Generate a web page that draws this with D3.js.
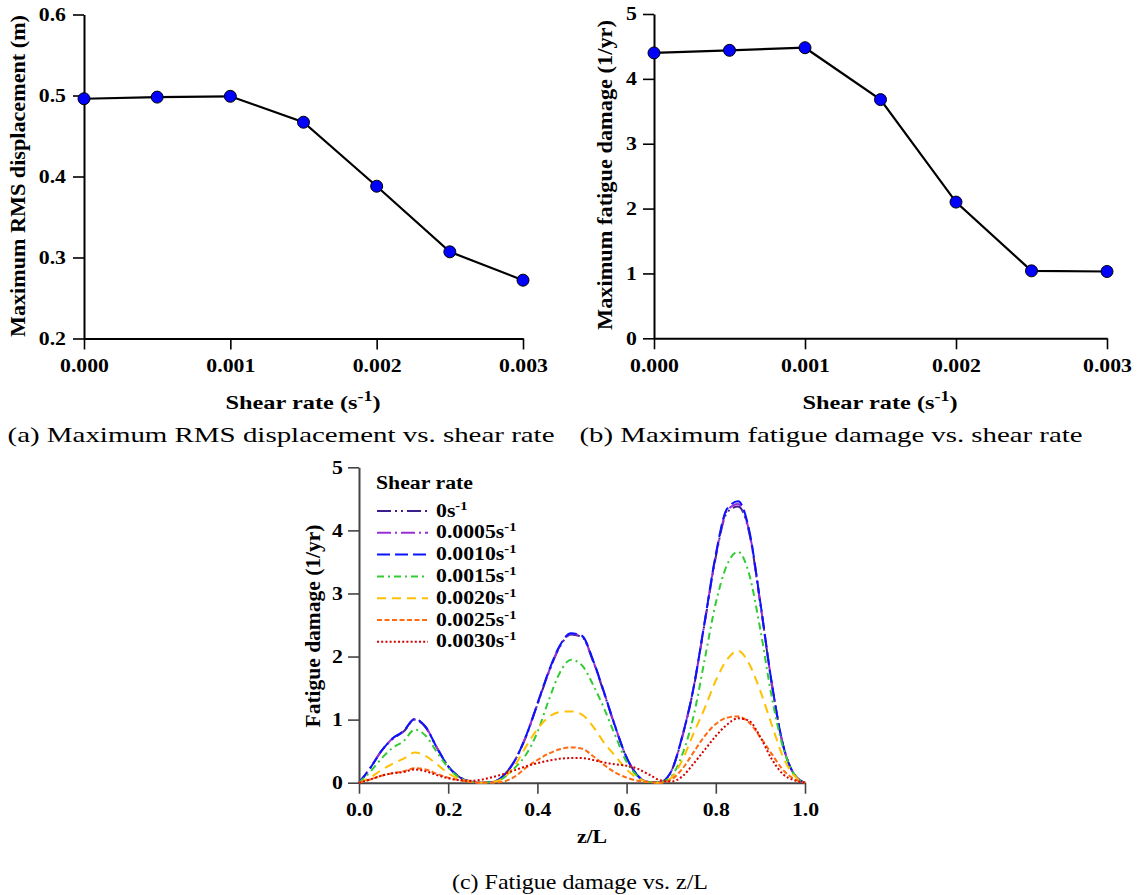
<!DOCTYPE html>
<html>
<head>
<meta charset="utf-8">
<script src="https://cdn.jsdelivr.net/npm/d3@7"></script>
<style>
  body { margin: 0; background: #fff; }
  svg text { font-family: "Liberation Serif", "Times New Roman", serif; fill: #000; }
</style>
</head>
<body>
<svg id="chart" width="1139" height="895"></svg>
<script>
// ---- data ----
const shearRates = [0, 0.0005, 0.001, 0.0015, 0.002, 0.0025, 0.003];
const maxRmsDisp = [0.496, 0.498, 0.499, 0.467, 0.388, 0.307, 0.272];
const maxFatigue = [4.40, 4.44, 4.48, 3.68, 2.10, 1.04, 1.03];

const shearTicks = [0, 0.001, 0.002, 0.003];
const shearMinor = [0.0005, 0.0015, 0.0025];
const dispTicks = [0.2, 0.3, 0.4, 0.5, 0.6];
const dispMinor = [0.25, 0.35, 0.45, 0.55];
const damageTicks = [0, 1, 2, 3, 4, 5];
const damageMinor = [0.5, 1.5, 2.5, 3.5, 4.5];
const zTicks = [0, 0.2, 0.4, 0.6, 0.8, 1.0];
const zMinor = [0.1, 0.3, 0.5, 0.7, 0.9];

const zL = [0, 0.025, 0.05, 0.075, 0.1, 0.125, 0.15, 0.175, 0.2, 0.225,
  0.25, 0.275, 0.3, 0.325, 0.35, 0.375, 0.4, 0.425, 0.45, 0.475,
  0.5, 0.525, 0.55, 0.575, 0.6, 0.625, 0.65, 0.675, 0.7, 0.725,
  0.75, 0.775, 0.8, 0.825, 0.85, 0.875, 0.9, 0.925, 0.95, 0.975, 1.0];

const damage0000 = [0, 0.23, 0.50, 0.69, 0.81, 1.00, 0.87, 0.55, 0.26, 0.09, 0.02, 0.00, 0.01,
  0.12, 0.36, 0.74, 1.24, 1.74, 2.15, 2.35, 2.31, 1.92, 1.41, 0.87, 0.40, 0.11, 0.01, 0.01,
  0.18, 0.73, 1.49, 2.53, 3.58, 4.28, 4.38, 3.96, 2.83, 1.59, 0.62, 0.14, 0];
const damage0005 = [0, 0.23, 0.50, 0.70, 0.82, 1.01, 0.88, 0.55, 0.26, 0.09, 0.02, 0.00, 0.01,
  0.12, 0.36, 0.75, 1.25, 1.75, 2.16, 2.36, 2.32, 1.93, 1.42, 0.88, 0.40, 0.11, 0.01, 0.01,
  0.18, 0.74, 1.50, 2.54, 3.60, 4.31, 4.42, 3.98, 2.84, 1.60, 0.62, 0.14, 0];
const damage0010 = [0, 0.23, 0.50, 0.70, 0.82, 1.01, 0.88, 0.55, 0.26, 0.09, 0.02, 0.00, 0.01,
  0.12, 0.36, 0.75, 1.25, 1.76, 2.17, 2.37, 2.33, 1.94, 1.42, 0.88, 0.40, 0.11, 0.01, 0.01,
  0.18, 0.74, 1.50, 2.55, 3.62, 4.34, 4.46, 4.00, 2.85, 1.60, 0.62, 0.14, 0];
const damage0015 = [0, 0.17, 0.38, 0.55, 0.66, 0.84, 0.74, 0.48, 0.24, 0.08, 0.02, 0.00, 0.01,
  0.08, 0.24, 0.45, 0.80, 1.30, 1.74, 1.95, 1.86, 1.55, 1.17, 0.74, 0.33, 0.10, 0.01, 0.01,
  0.10, 0.45, 1.05, 1.95, 2.85, 3.45, 3.66, 3.30, 2.42, 1.38, 0.58, 0.14, 0];
const damage0020 = [0, 0.08, 0.20, 0.30, 0.38, 0.48, 0.42, 0.29, 0.15, 0.06, 0.02, 0.00, 0.01,
  0.08, 0.28, 0.58, 0.85, 1.04, 1.12, 1.13, 1.08, 0.89, 0.63, 0.42, 0.21, 0.07, 0.01, 0.00,
  0.08, 0.36, 0.78, 1.18, 1.62, 1.95, 2.09, 1.88, 1.45, 0.93, 0.42, 0.12, 0];
const damage0025 = [0, 0.05, 0.11, 0.15, 0.18, 0.23, 0.21, 0.14, 0.08, 0.04, 0.01, 0.00, 0.00,
  0.02, 0.10, 0.24, 0.36, 0.46, 0.53, 0.56, 0.54, 0.42, 0.28, 0.16, 0.08, 0.03, 0.01, 0.00,
  0.05, 0.22, 0.48, 0.74, 0.93, 1.03, 1.05, 0.95, 0.72, 0.46, 0.21, 0.06, 0];
const damage0030 = [0, 0.05, 0.11, 0.15, 0.17, 0.21, 0.18, 0.12, 0.07, 0.04, 0.03, 0.05, 0.09,
  0.14, 0.20, 0.26, 0.31, 0.35, 0.38, 0.39, 0.39, 0.36, 0.32, 0.29, 0.27, 0.22, 0.13, 0.04,
  0.02, 0.10, 0.30, 0.52, 0.74, 0.92, 1.02, 0.98, 0.72, 0.38, 0.14, 0.04, 0];

const seriesLabels = ["0", "0.0005", "0.0010", "0.0015", "0.0020", "0.0025", "0.0030"];
const seriesValues = [damage0000, damage0005, damage0010, damage0015, damage0020, damage0025, damage0030];

// ---- styles ----
const seriesColors = ["#3b1f8f", "#9b2fd6", "#0a14ff", "#33cc33", "#ffc000", "#ff6a10", "#d40000"];
const seriesDashes = ["14,4,2,4,2,4", "14,4,2,4", "13,5", "7,4,2,4", "9,6", "5,2.5", "2,2.2"];

const SX = 1.21; // the figure's lettering is horizontally wide
const FS = 18;
const svg = d3.select("#chart");

function widen(sel) {
  sel.each(function () {
    const t = d3.select(this);
    const x = +t.attr("x") || 0;
    t.attr("x", 0).attr("transform", `translate(${x},0) scale(${SX},1)`);
  });
}

function drawAxes(x, y, o) {
  const y0 = y.range()[0];
  const x0 = x.range()[0];
  const gx = svg.append("g").attr("transform", `translate(0,${y0})`);
  gx.call(d3.axisBottom(x).tickValues(o.xMinor).tickFormat("").tickSize(6).tickSizeOuter(0));
  gx.call(d3.axisBottom(x).tickValues(o.xTicks).tickFormat(o.xFmt).tickSize(11).tickSizeOuter(0).tickPadding(10));
  const gy = svg.append("g").attr("transform", `translate(${x0},0)`);
  gy.call(d3.axisLeft(y).tickValues(o.yMinor).tickFormat("").tickSize(6).tickSizeOuter(0));
  gy.call(d3.axisLeft(y).tickValues(o.yTicks).tickFormat(o.yFmt).tickSize(11).tickSizeOuter(0).tickPadding(o.yPad));
  [gx, gy].forEach(g => {
    g.selectAll(".domain").attr("stroke", o.color).attr("stroke-width", 2);
    g.selectAll(".tick line").attr("stroke", o.color).attr("stroke-width", 1.6);
    g.selectAll(".tick text").attr("font-size", FS).attr("font-weight", "bold")
      .attr("font-family", '"Liberation Serif", serif').attr("fill", "#000");
  });
  widen(gx.selectAll(".tick text"));
  widen(gy.selectAll(".tick text"));
}

function yTitle(x, y, len, text) {
  svg.append("text")
    .attr("transform", `translate(${x},${y}) scale(${SX},1) rotate(-90)`)
    .attr("text-anchor", "middle").attr("font-size", FS).attr("font-weight", "bold")
    .attr("textLength", len).attr("lengthAdjust", "spacingAndGlyphs")
    .text(text);
}

function shearTitle(cx, y) {
  const t = svg.append("text").attr("x", cx).attr("y", y)
    .attr("text-anchor", "middle").attr("font-size", 19).attr("font-weight", "bold")
    .attr("textLength", 155).attr("lengthAdjust", "spacingAndGlyphs");
  t.append("tspan").text("Shear rate (s");
  t.append("tspan").attr("font-size", 14).attr("dy", -8).text("-1");
  t.append("tspan").attr("dy", 8).text(")");
}

function caption(cx, y, len, text) {
  svg.append("text").attr("x", cx).attr("y", y).attr("text-anchor", "middle")
    .attr("font-size", 21).attr("textLength", len).attr("lengthAdjust", "spacingAndGlyphs")
    .text(text);
}

function markerPanel(x, y, values) {
  const pts = shearRates.map((s, i) => [s, values[i]]);
  svg.append("path").datum(pts)
    .attr("fill", "none").attr("stroke", "#000").attr("stroke-width", 2.2)
    .attr("d", d3.line().x(d => x(d[0])).y(d => y(d[1])));
  svg.append("g").selectAll("circle").data(pts).join("circle")
    .attr("cx", d => x(d[0])).attr("cy", d => y(d[1])).attr("r", 6)
    .attr("fill", "#0000ff").attr("stroke", "#000").attr("stroke-width", 1);
}

// ---- (a) ----
const xA = d3.scaleLinear().domain([0, 0.003]).range([84, 523]);
const yA = d3.scaleLinear().domain([0.2, 0.6]).range([338.5, 14.5]);
drawAxes(xA, yA, { xTicks: shearTicks, xMinor: shearMinor, xFmt: d3.format(".3f"),
  yTicks: dispTicks, yMinor: dispMinor, yFmt: d3.format(".1f"), yPad: 7, color: "#000" });
markerPanel(xA, yA, maxRmsDisp);
yTitle(25, 176, 322, "Maximum RMS displacement (m)");
shearTitle(303, 409);
caption(281, 442, 547, "(a) Maximum RMS displacement vs. shear rate");

// ---- (b) ----
const xB = d3.scaleLinear().domain([0, 0.003]).range([654, 1107]);
const yB = d3.scaleLinear().domain([0, 5]).range([338.3, 14]);
drawAxes(xB, yB, { xTicks: shearTicks, xMinor: shearMinor, xFmt: d3.format(".3f"),
  yTicks: damageTicks, yMinor: damageMinor, yFmt: d3.format("d"), yPad: 6, color: "#000" });
markerPanel(xB, yB, maxFatigue);
yTitle(612, 175, 310, "Maximum fatigue damage (1/yr)");
shearTitle(880, 409);
caption(831, 442, 503, "(b) Maximum fatigue damage vs. shear rate");

// ---- (c) ----
const xC = d3.scaleLinear().domain([0, 1]).range([359, 805]);
const yC = d3.scaleLinear().domain([0, 5]).range([782.7, 467.3]);
drawAxes(xC, yC, { xTicks: zTicks, xMinor: zMinor, xFmt: d3.format(".1f"),
  yTicks: damageTicks, yMinor: damageMinor, yFmt: d3.format("d"), yPad: 5, color: "#444" });

const lineC = d3.line().x(d => xC(d[0])).y(d => yC(d[1])).curve(d3.curveMonotoneX);
svg.append("g").selectAll("path")
  .data(seriesValues.map((vals, i) => ({ i, pts: zL.map((z, k) => [z, vals[k]]) })))
  .join("path")
  .attr("fill", "none")
  .attr("stroke", d => seriesColors[d.i])
  .attr("stroke-width", 2)
  .attr("stroke-dasharray", d => seriesDashes[d.i])
  .attr("d", d => lineC(d.pts));

yTitle(320, 626, 203, "Fatigue damage (1/yr)");
svg.append("text").attr("x", 0).attr("y", 0)
  .attr("transform", `translate(592,843) scale(${SX},1)`)
  .attr("text-anchor", "middle").attr("font-size", FS).attr("font-weight", "bold").text("z/L");
caption(580, 889, 256, "(c) Fatigue damage vs. z/L");

// legend
const legend = svg.append("g");
legend.append("text").attr("x", 0).attr("y", 0)
  .attr("transform", `translate(376,489) scale(${SX},1)`)
  .attr("font-size", FS).attr("font-weight", "bold").text("Shear rate");
const rows = legend.selectAll("g.row").data(seriesLabels).join("g")
  .attr("class", "row")
  .attr("transform", (d, i) => `translate(0,${511 + i * 21.8})`);
rows.append("line").attr("x1", 377).attr("x2", 428).attr("y1", 0).attr("y2", 0)
  .attr("stroke", (d, i) => seriesColors[i]).attr("stroke-width", 2)
  .attr("stroke-dasharray", (d, i) => seriesDashes[i]);
const lt = rows.append("text").attr("x", 0).attr("y", 0)
  .attr("transform", `translate(436,5.5) scale(${SX},1)`)
  .attr("font-size", FS).attr("font-weight", "bold");
lt.append("tspan").text(d => d + "s");
lt.append("tspan").attr("font-size", 12).attr("dy", -7).text("-1");
</script>
</body>
</html>
